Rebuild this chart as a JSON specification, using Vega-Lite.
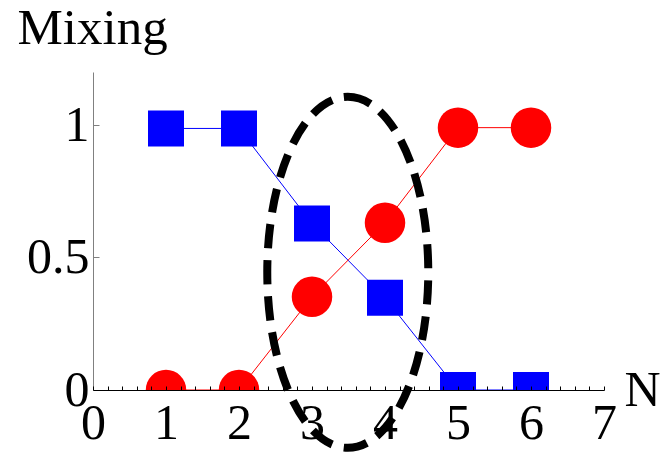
{
  "$schema": "https://vega.github.io/schema/vega-lite/v6.json",
  "width": 511,
  "height": 318,
  "autosize": "none",
  "padding": {"left": 93, "top": 72, "right": 58, "bottom": 66},
  "background": "white",
  "config": {"view": {"stroke": null}, "font": "Liberation Serif"},
  "datasets": {
    "pts": [
      {"N": 1, "mixing": 0.987, "series": "blue"},
      {"N": 2, "mixing": 0.987, "series": "blue"},
      {"N": 3, "mixing": 0.628, "series": "blue"},
      {"N": 4, "mixing": 0.348, "series": "blue"},
      {"N": 5, "mixing": 0, "series": "blue"},
      {"N": 6, "mixing": 0, "series": "blue"},
      {"N": 1, "mixing": 0, "series": "red"},
      {"N": 2, "mixing": 0, "series": "red"},
      {"N": 3, "mixing": 0.352, "series": "red"},
      {"N": 4, "mixing": 0.631, "series": "red"},
      {"N": 5, "mixing": 0.99, "series": "red"},
      {"N": 6, "mixing": 0.99, "series": "red"}
    ],
    "oval": [{"N": 3.49, "mixing": 0.444}]
  },
  "encoding": {
    "x": {
      "field": "N",
      "type": "quantitative",
      "scale": {"domain": [0, 7], "nice": false, "zero": false},
      "axis": {
        "values": [0,0.2,0.4,0.6,0.8,1,1.2,1.4,1.6,1.8,2,2.2,2.4,2.6,2.8,3,3.2,3.4,3.6,3.8,4,4.2,4.4,4.6,4.8,5,5.2,5.4,5.6,5.8,6,6.2,6.4,6.6,6.8,7],
        "labelExpr": "abs(datum.value - round(datum.value)) < 0.001 ? format(datum.value, 'd') : ''",
        "tickSize": -4,
        "tickColor": "black",
        "domainColor": "black",
        "grid": false,
        "labelFontSize": 50,
        "labelColor": "black",
        "labelPadding": 12,
        "labelFlush": false,
        "labelOverlap": false,
        "title": "N",
        "titleFontSize": 50,
        "titleFontWeight": "normal",
        "titleColor": "black",
        "titleAlign": "left",
        "titleBaseline": "alphabetic",
        "titleX": 531,
        "titleY": 15,
        "zindex": 1
      }
    },
    "y": {
      "field": "mixing",
      "type": "quantitative",
      "scale": {"domain": [0, 1.2], "nice": false, "zero": false},
      "axis": {
        "values": [0, 0.5, 1],
        "format": "~g",
        "tickSize": -6,
        "tickColor": "#808080",
        "domainColor": "#808080",
        "grid": false,
        "labelFontSize": 50,
        "labelColor": "black",
        "labelPadding": 10,
        "title": "Mixing",
        "titleAngle": 0,
        "titleFontSize": 51,
        "titleFontWeight": "normal",
        "titleColor": "black",
        "titleAlign": "left",
        "titleBaseline": "alphabetic",
        "titleX": -76,
        "titleY": -29
      }
    }
  },
  "layer": [
    {
      "data": {"name": "pts"},
      "transform": [{"filter": "datum.series === 'blue'"}],
      "mark": {"type": "line", "color": "#0000ff", "strokeWidth": 1, "clip": true}
    },
    {
      "data": {"name": "pts"},
      "transform": [{"filter": "datum.series === 'red'"}],
      "mark": {"type": "line", "color": "#ff0000", "strokeWidth": 1, "clip": true}
    },
    {
      "data": {"name": "pts"},
      "transform": [{"filter": "datum.series === 'blue'"}],
      "mark": {"type": "point", "shape": "square", "filled": true, "color": "#0000ff", "opacity": 1, "size": 1296, "clip": true}
    },
    {
      "data": {"name": "pts"},
      "transform": [{"filter": "datum.series === 'red'"}],
      "mark": {"type": "point", "shape": "circle", "filled": true, "color": "#ff0000", "opacity": 1, "size": 1640, "clip": true}
    },
    {
      "data": {"name": "oval"},
      "mark": {
        "type": "point",
        "shape": "M0,-1 C0.2533,-1 0.4587,-0.5523 0.4587,0 C0.4587,0.5523 0.2533,1 0,1 C-0.2533,1 -0.4587,0.5523 -0.4587,0 C-0.4587,-0.5523 -0.2533,-1 0,-1 Z",
        "size": 123201,
        "filled": false,
        "fill": null,
        "stroke": "black",
        "strokeWidth": 8,
        "strokeDash": [24, 12],
        "opacity": 1,
        "clip": false
      }
    }
  ]
}
